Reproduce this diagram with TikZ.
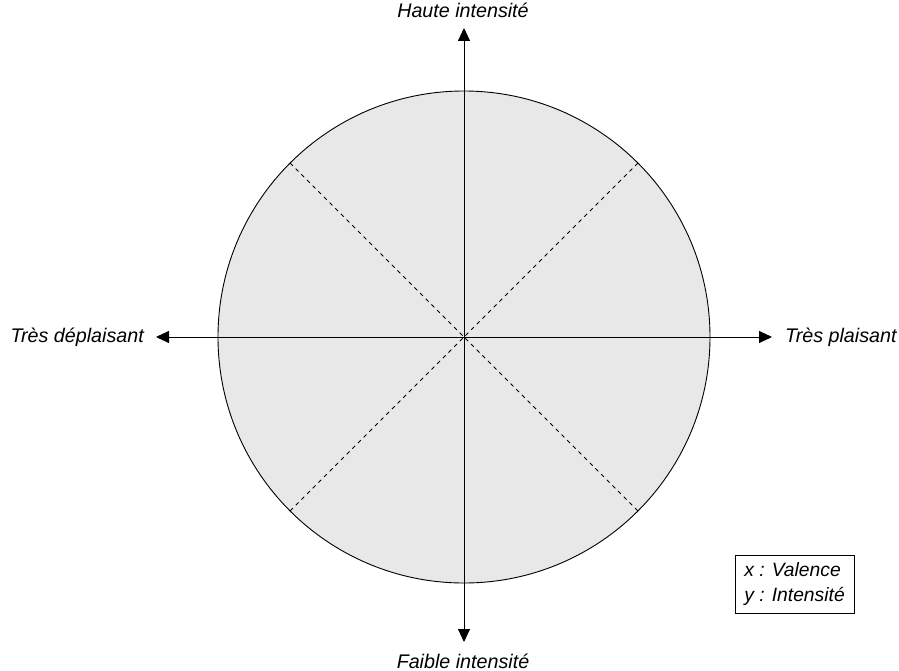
\documentclass[tikz,border=0pt]{standalone}
\usepackage{fontspec}
\setmainfont{Liberation Sans}
\usetikzlibrary{arrows.meta}
\begin{document}
\begin{tikzpicture}[x=1pt,y=-1pt,
  axis/.style={line width=0.9pt,-{Triangle[length=13pt,width=12pt]}},
  diag/.style={line width=0.8pt,dash pattern=on 4pt off 4pt},
  lbl/.style={font=\fontsize{19.7}{23}\selectfont\itshape,inner sep=0pt},
  legendbox/.style={draw,line width=0.7pt,font=\fontsize{19.3}{25}\selectfont\itshape,align=left,minimum width=119pt,minimum height=58pt,inner sep=0pt}]
\useasboundingbox (0,0) rectangle (899,671);
\coordinate (c) at (464,337);
\fill[fill={rgb,255:red,232;green,232;blue,232}] (c) circle (246);
\path (c) ++(174,-174) coordinate (ne) (c) ++(-174,-174) coordinate (nw)
      (c) ++(174,174) coordinate (se) (c) ++(-174,174) coordinate (sw);
\draw[diag] (nw) -- (se);
\draw[diag] (ne) -- (sw);
\draw[line width=0.9pt] (c) circle (246);
\coordinate (top) at (464,28);
\coordinate (bot) at (464,642);
\coordinate (lft) at (156,337);
\coordinate (rgt) at (772,337);
\draw[axis] (c) -- (top);
\draw[axis] (c) -- (bot);
\draw[axis] (c) -- (lft);
\draw[axis] (c) -- (rgt);
\node[lbl] (hi) at (463,10) {Haute intensité};
\node[lbl] (lo) at (463,661) {Faible intensité};
\node[lbl,anchor=east] (dep) at (144,337) {Très déplaisant};
\node[lbl,anchor=west] (pla) at (785,337) {Très plaisant};
\node[legendbox] (leg) at (794.5,584) {x : Valence\\y : Intensité};
\end{tikzpicture}
\end{document}
